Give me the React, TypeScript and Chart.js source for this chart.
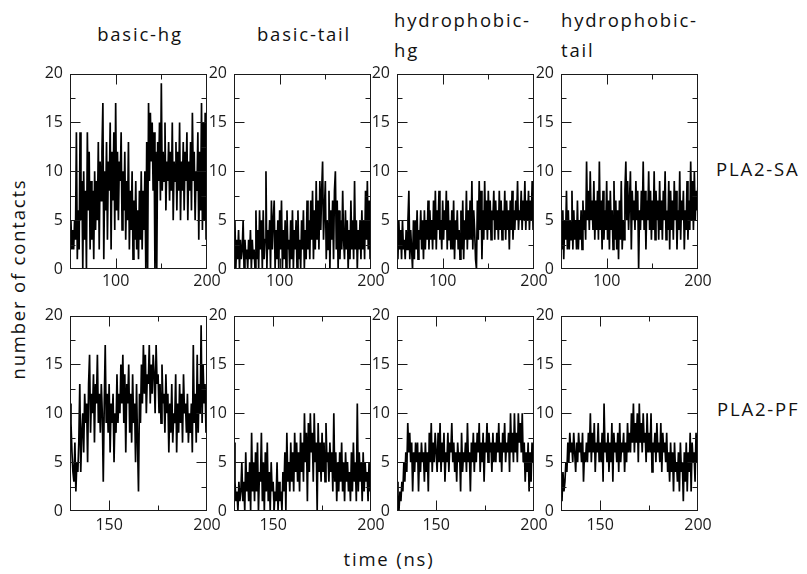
import React, { useEffect, useRef } from 'react';
import { Chart, registerables } from 'chart.js';

Chart.register(...registerables);

// ---------- data ----------
const columnTitles = ['basic-hg', 'basic-tail', 'hydrophobic-\nhg', 'hydrophobic-\ntail'];
const rowLabels = ['PLA2-SA', 'PLA2-PF'];
const xAxisTitle = 'time (ns)';
const yAxisTitle = 'number of contacts';

// PLA2-SA: time 50..200 ns, one sample per ns
const saStart = 50;
const saStep = 1;
const saRange = [50, 200];
const saXTickStep = 50;
const saXLabelEvery = 100;

// PLA2-PF: time 130..200 ns, one sample per 0.5 ns
const pfStart = 130;
const pfStep = 0.5;
const pfRange = [130, 200];
const pfXTickStep = 25;
const pfXLabelEvery = 50;

const yRange = [0, 20];
const yTickStep = 5;

const saBasicHg = [
  3, 5, 2, 4, 2, 5, 3, 14, 1, 6,
  2, 14, 5, 9, 0, 10, 3, 8, 0, 14,
  6, 12, 2, 9, 3, 8, 1, 10, 4, 9,
  5, 13, 2, 11, 7, 12, 17, 1, 10, 6,
  13, 3, 11, 8, 15, 2, 12, 7, 14, 4,
  17, 6, 12, 5, 11, 9, 14, 4, 10, 6,
  12, 3, 9, 5, 13, 2, 8, 4, 10, 1,
  7, 3, 9, 2, 6, 1, 8, 3, 10, 2,
  8, 4, 10, 0, 13, 0, 17, 9, 16, 11,
  15, 8, 14, 0, 12, 0, 13, 9, 15, 7,
  19, 8, 12, 9, 15, 6, 11, 9, 13, 7,
  12, 8, 15, 5, 11, 9, 13, 6, 12, 8,
  15, 5, 11, 8, 13, 6, 12, 9, 14, 5,
  11, 8, 13, 6, 16, 9, 12, 5, 10, 8,
  14, 3, 12, 6, 17, 4, 15, 5, 16, 3,
  9,
];

const saBasicTail = [
  2, 5, 0, 3, 1, 4, 0, 3, 1, 2,
  5, 0, 3, 1, 2, 0, 3, 1, 4, 0,
  3, 1, 2, 0, 6, 1, 4, 0, 6, 2,
  5, 0, 6, 1, 3, 10, 0, 4, 2, 5,
  0, 7, 2, 5, 7, 0, 4, 1, 5, 0,
  6, 2, 7, 0, 4, 1, 5, 0, 6, 2,
  3, 0, 5, 1, 6, 0, 4, 2, 5, 0,
  6, 1, 3, 0, 5, 2, 6, 0, 4, 1,
  7, 2, 5, 1, 7, 3, 8, 1, 6, 2,
  9, 3, 7, 2, 9, 4, 8, 11, 3, 6,
  9, 1, 5, 2, 8, 0, 6, 3, 7, 1,
  8, 10, 2, 7, 0, 6, 1, 5, 2, 8,
  3, 1, 6, 2, 5, 0, 4, 1, 7, 2,
  5, 1, 9, 2, 5, 0, 4, 2, 5, 1,
  6, 2, 5, 1, 8, 3, 9, 2, 7, 1,
  4,
];

const saHydroHg = [
  3, 1, 5, 2, 4, 1, 5, 2, 3, 1,
  4, 2, 5, 8, 1, 4, 2, 0, 5, 1,
  5, 2, 6, 1, 4, 3, 6, 2, 5, 1,
  6, 2, 5, 3, 7, 2, 6, 3, 5, 2,
  7, 3, 8, 2, 6, 4, 8, 3, 5, 2,
  7, 3, 6, 4, 8, 2, 7, 3, 5, 2,
  6, 2, 7, 1, 5, 3, 6, 2, 4, 1,
  6, 2, 7, 1, 5, 3, 8, 2, 6, 3,
  7, 3, 9, 2, 6, 4, 1, 0, 7, 3,
  9, 4, 8, 1, 6, 3, 9, 4, 7, 3,
  8, 4, 7, 3, 6, 5, 8, 3, 7, 4,
  6, 3, 8, 4, 7, 3, 6, 4, 8, 3,
  7, 4, 6, 2, 7, 4, 8, 3, 6, 4,
  7, 5, 9, 4, 6, 5, 8, 4, 7, 5,
  9, 4, 7, 5, 8, 4, 7, 5, 9, 4,
  6,
];

const saHydroTail = [
  4, 2, 6, 1, 5, 3, 8, 2, 6, 2,
  5, 3, 8, 2, 6, 3, 5, 2, 7, 2,
  5, 3, 6, 2, 7, 4, 6, 3, 11, 5,
  8, 4, 10, 5, 7, 4, 9, 3, 7, 4,
  8, 3, 11, 4, 7, 2, 8, 3, 6, 4,
  9, 3, 7, 2, 8, 4, 6, 2, 9, 3,
  7, 2, 6, 1, 7, 3, 9, 2, 5, 3,
  8, 11, 5, 9, 4, 7, 10, 2, 8, 5,
  7, 4, 9, 5, 8, 0, 6, 4, 8, 5,
  11, 4, 8, 2, 7, 5, 10, 4, 8, 3,
  7, 4, 10, 3, 8, 5, 7, 3, 9, 4,
  7, 3, 8, 5, 10, 3, 6, 4, 9, 2,
  8, 4, 7, 3, 9, 5, 8, 2, 6, 4,
  10, 3, 7, 5, 8, 2, 6, 4, 9, 3,
  7, 4, 11, 5, 9, 4, 10, 5, 8, 6,
  9,
];

const pfBasicHg = [
  11, 9, 6, 4, 3, 7, 2, 5, 4, 7,
  13, 4, 8, 10, 6, 12, 9, 11, 5, 13,
  16, 8, 12, 10, 14, 7, 13, 11, 16, 9,
  12, 8, 13, 10, 3, 11, 17, 9, 12, 8,
  13, 6, 11, 9, 12, 5, 10, 8, 14, 9,
  12, 10, 15, 11, 16, 9, 14, 6, 13, 11,
  15, 8, 12, 7, 14, 9, 11, 5, 13, 7,
  2, 12, 9, 15, 11, 17, 12, 16, 10, 14,
  13, 17, 11, 15, 12, 16, 14, 10, 17, 13,
  14, 10, 13, 9, 15, 11, 12, 8, 14, 10,
  12, 6, 11, 8, 13, 7, 10, 9, 14, 6,
  11, 8, 13, 9, 12, 7, 14, 10, 11, 8,
  12, 7, 10, 8, 11, 6, 17, 9, 12, 7,
  16, 8, 13, 10, 19, 9, 15, 11, 13, 8,
  9,
];

const pfBasicTail = [
  7, 3, 1, 2, 0, 3, 1, 2, 5, 1,
  3, 0, 6, 2, 4, 1, 5, 0, 8, 2,
  5, 1, 6, 2, 7, 0, 4, 3, 8, 1,
  5, 0, 6, 2, 7, 1, 4, 0, 5, 2,
  3, 0, 2, 1, 5, 0, 3, 1, 2, 0,
  4, 2, 6, 0, 8, 3, 5, 2, 7, 3,
  6, 2, 8, 4, 7, 3, 6, 2, 8, 4,
  7, 3, 10, 5, 8, 1, 9, 4, 10, 6,
  8, 3, 10, 5, 7, 0, 9, 4, 7, 3,
  8, 4, 7, 3, 9, 5, 6, 3, 7, 4,
  6, 2, 10, 3, 6, 1, 5, 2, 6, 3,
  7, 2, 5, 1, 6, 3, 5, 2, 4, 1,
  6, 2, 7, 3, 5, 1, 11, 2, 6, 3,
  5, 1, 6, 2, 5, 3, 4, 1, 5, 2,
  3,
];

const pfHydroHg = [
  3, 1, 0, 2, 1, 3, 2, 5, 3, 6,
  4, 9, 6, 8, 5, 7, 2, 6, 4, 7,
  5, 7, 2, 6, 4, 7, 5, 6, 3, 7,
  4, 6, 2, 8, 5, 9, 4, 7, 5, 8,
  6, 4, 8, 5, 9, 4, 7, 5, 8, 3,
  6, 5, 8, 4, 7, 6, 9, 5, 7, 4,
  6, 3, 7, 5, 6, 2, 8, 4, 6, 5,
  7, 4, 9, 5, 6, 2, 7, 5, 8, 4,
  7, 5, 8, 6, 9, 4, 7, 5, 8, 3,
  7, 6, 9, 5, 8, 6, 7, 4, 8, 5,
  7, 5, 8, 6, 9, 5, 7, 4, 8, 6,
  9, 5, 7, 6, 8, 4, 10, 6, 8, 5,
  10, 6, 8, 5, 10, 7, 9, 6, 10, 5,
  7, 3, 6, 4, 7, 2, 6, 3, 7, 5,
  7,
];

const pfHydroTail = [
  3, 1, 4, 2, 3, 5, 4, 7, 5, 8,
  6, 7, 5, 8, 6, 4, 7, 5, 8, 6,
  7, 5, 8, 3, 6, 5, 7, 5, 8, 6,
  10, 5, 8, 6, 9, 4, 7, 6, 9, 5,
  7, 5, 8, 3, 11, 6, 7, 5, 8, 4,
  7, 5, 9, 3, 8, 6, 7, 5, 8, 4,
  9, 5, 7, 6, 8, 4, 7, 5, 9, 6,
  8, 6, 10, 7, 11, 6, 9, 7, 10, 5,
  11, 7, 9, 6, 10, 7, 8, 5, 10, 6,
  8, 6, 10, 4, 7, 6, 8, 5, 9, 6,
  7, 5, 9, 4, 8, 6, 7, 5, 8, 4,
  6, 3, 7, 4, 6, 2, 7, 4, 5, 3,
  6, 2, 7, 4, 5, 1, 6, 3, 7, 2,
  6, 4, 8, 2, 7, 5, 6, 3, 8, 5,
  7,
];

const rows = [
  { series: [saBasicHg, saBasicTail, saHydroHg, saHydroTail], start: saStart, step: saStep, range: saRange, tickStep: saXTickStep, labelEvery: saXLabelEvery },
  { series: [pfBasicHg, pfBasicTail, pfHydroHg, pfHydroTail], start: pfStart, step: pfStep, range: pfRange, tickStep: pfXTickStep, labelEvery: pfXLabelEvery },
];

// ---------- layout ----------
const PANEL_LEFTS = [70, 234, 397, 561];
const PANEL_TOPS = [69, 311];
const PANEL_W = 137;
const PANEL_H = 200;
const AXIS_W = 40;
const AXIS_H = 30;
const PAD_T = 12;
const PAD_R = 22;
const CANVAS_W = AXIS_W + PANEL_W + PAD_R;
const CANVAS_H = PAD_T + PANEL_H + AXIS_H;
const X_LABEL_PAD = [3, 5];
const FONT = '"Open Sans", sans-serif';
const INK = '#1a1a1a';

const framePlugin = {
  id: 'frame',
  afterDatasetsDraw(chart: any, _args: any, opts: any) {
    const { ctx, chartArea: a, scales } = chart;
    const xs = scales.x;
    const ys = scales.y;
    const L = Math.round(a.left) + 0.5;
    const R = Math.round(a.right) - 0.5;
    const T = Math.round(a.top) + 0.5;
    const B = Math.round(a.bottom) - 0.5;
    ctx.save();
    ctx.strokeStyle = INK;
    ctx.lineWidth = 1;
    ctx.beginPath();
    const xTick = (v: number, len: number) => {
      const p = Math.round(xs.getPixelForValue(v)) + 0.5;
      ctx.moveTo(p, T); ctx.lineTo(p, T + len);
      ctx.moveTo(p, B); ctx.lineTo(p, B - len);
    };
    const yTick = (v: number, len: number) => {
      const p = Math.round(ys.getPixelForValue(v)) + 0.5;
      ctx.moveTo(L, p); ctx.lineTo(L + len, p);
      ctx.moveTo(R, p); ctx.lineTo(R - len, p);
    };
    opts.xMajor.forEach((v: number) => xTick(v, 10));
    opts.xMinor.forEach((v: number) => xTick(v, 5));
    opts.yMajor.forEach((v: number) => yTick(v, 10));
    opts.yMinor.forEach((v: number) => yTick(v, 5));
    ctx.stroke();
    ctx.strokeRect(L, T, R - L, B - T);
    ctx.restore();
  },
};

function Panel({ row, col }: { row: number; col: number }) {
  const ref = useRef<HTMLCanvasElement>(null);
  const r = rows[row];
  useEffect(() => {
    const values = r.series[col];
    const data = values.map((v, i) => ({ x: r.start + i * r.step, y: v }));
    const [xmin, xmax] = r.range;
    const xMajor: number[] = [];
    const xMinor: number[] = [];
    for (let v = xmin; v < xmax; v += 0.5) {
      if (v <= xmin) continue;
      if (v % r.labelEvery === 0) xMajor.push(v);
      else if (v % r.tickStep === 0) xMinor.push(v);
    }
    const yMajor: number[] = [];
    const yMinor: number[] = [];
    for (let v = yRange[0] + yTickStep / 2; v < yRange[1]; v += yTickStep / 2) {
      if (v % yTickStep === 0) yMajor.push(v);
      else yMinor.push(v);
    }
    const tickFont = { family: FONT, size: 16 };
    const chart = new Chart(ref.current!, {
      type: 'line',
      data: {
        datasets: [
          { data, borderColor: '#000', borderWidth: 1.7, pointRadius: 0, tension: 0, fill: false, borderJoinStyle: 'miter' },
        ],
      },
      options: {
        animation: false,
        responsive: false,
        devicePixelRatio: 1,
        events: [],
        parsing: false as any,
        layout: { padding: { left: 0, right: PAD_R, top: PAD_T, bottom: 0 } },
        plugins: {
          legend: { display: false },
          tooltip: { enabled: false },
          frame: { xMajor, xMinor, yMajor, yMinor },
        } as any,
        scales: {
          x: {
            type: 'linear',
            min: xmin,
            max: xmax,
            afterFit: (s: any) => { s.height = AXIS_H; },
            grid: { display: false, drawTicks: false },
            border: { display: false },
            ticks: {
              stepSize: r.tickStep,
              autoSkip: false,
              maxRotation: 0,
              padding: X_LABEL_PAD[row],
              font: tickFont,
              color: INK,
              callback: (v: any) => (Number(v) % r.labelEvery === 0 ? String(v) : ''),
            },
          },
          y: {
            type: 'linear',
            min: yRange[0],
            max: yRange[1],
            afterFit: (s: any) => { s.width = AXIS_W; },
            grid: { display: false, drawTicks: false },
            border: { display: false },
            ticks: { stepSize: yTickStep, padding: 7, font: tickFont, color: INK },
          },
        },
      } as any,
      plugins: [framePlugin],
    });
    return () => chart.destroy();
  }, []);
  return (
    <canvas
      ref={ref}
      width={CANVAS_W}
      height={CANVAS_H}
      style={{
        position: 'absolute',
        left: PANEL_LEFTS[col] - AXIS_W,
        top: PANEL_TOPS[row] - PAD_T,
        width: CANVAS_W,
        height: CANVAS_H,
      }}
    />
  );
}

const textBase: React.CSSProperties = {
  position: 'absolute',
  fontFamily: FONT,
  fontSize: 18.5,
  lineHeight: '30px',
  letterSpacing: 1.8,
  whiteSpace: 'pre',
  color: '#111',
};

const titlePos: React.CSSProperties[] = [
  { left: 40, top: 19, width: 200, textAlign: 'center' },
  { left: 204, top: 19, width: 200, textAlign: 'center' },
  { left: 394, top: 5 },
  { left: 561, top: 5 },
];
const rowLabelPos: React.CSSProperties[] = [
  { left: 716, top: 154 },
  { left: 717, top: 394 },
];

export default function App() {
  return (
    <div style={{ position: 'fixed', left: 0, top: 0, width: 807, height: 574, background: '#fff', overflow: 'hidden' }}>
      {columnTitles.map((t, i) => (
        <div key={'t' + i} style={{ ...textBase, ...titlePos[i] }}>{t}</div>
      ))}
      {rowLabels.map((t, i) => (
        <div key={'r' + i} style={{ ...textBase, ...rowLabelPos[i] }}>{t}</div>
      ))}
      <div style={{ ...textBase, left: 289, top: 544, width: 200, textAlign: 'center' }}>{xAxisTitle}</div>
      <div
        style={{
          ...textBase,
          left: 18 - 130,
          top: 279 - 9,
          width: 260,
          height: 18,
          lineHeight: '18px',
          textAlign: 'center',
          transform: 'rotate(-90deg)',
          transformOrigin: 'center',
        }}
      >
        {yAxisTitle}
      </div>
      {[0, 1].map((row) => [0, 1, 2, 3].map((col) => <Panel key={row + '-' + col} row={row} col={col} />))}
    </div>
  );
}
